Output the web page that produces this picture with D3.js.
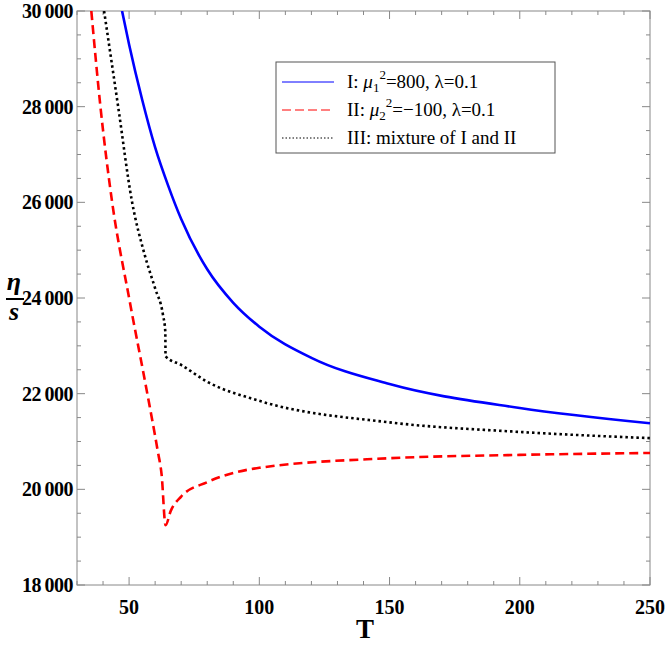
<!DOCTYPE html>
<html><head><meta charset="utf-8">
<script src="https://cdn.jsdelivr.net/npm/d3@7"></script>
<style>body{margin:0;background:#fff}</style>
</head><body>
<svg id="chart" width="666" height="645"></svg>
<script>
// curve I: mu1^2=800
const tI = [47.3, 50, 55, 60, 65, 70, 80, 90, 100, 120, 150, 200, 250];
const vI = [30000, 29300, 28150, 27150, 26350, 25650, 24600, 23900, 23400, 22750, 22200, 21700, 21380];
// curve II: mu2^2=-100
const tII = [35.5, 39, 43.5, 50, 57, 61, 62.5, 64, 66, 70, 80, 100, 150, 200, 250];
const vII = [30000, 28000, 26000, 24000, 22000, 20800, 20300, 19250, 19550, 19850, 20150, 20450, 20650, 20720, 20760];
// curve III: mixture
const tIII = [40.4, 45.8, 51, 56, 60, 63, 63.9, 64, 70, 80, 100, 150, 200, 250];
const vIII = [30000, 28000, 26050, 24900, 24200, 23650, 23300, 22780, 22600, 22250, 21850, 21400, 21200, 21070];
const xTicks = [50, 100, 150, 200, 250];
const yTicks = [18000, 20000, 22000, 24000, 26000, 28000, 30000];
const legendLabels = ["I: ", "II: ", "III: mixture of I and II"];

const svg = d3.select("#chart");
const L = 77, R = 650, T = 11, B = 585;
const x = d3.scaleLinear().domain([30, 250]).range([L, R]);
const y = d3.scaleLinear().domain([18000, 30000]).range([B, T]);

svg.append("defs").append("clipPath").attr("id", "clip")
  .append("rect").attr("x", L).attr("y", T).attr("width", R - L).attr("height", B - T);

const grey = "#888";
svg.append("rect").attr("x", L).attr("y", T).attr("width", R - L).attr("height", B - T)
  .attr("fill", "none").attr("stroke", grey);

// ticks inside the frame
d3.range(30, 251, 10).forEach(v => {
  const len = v % 50 === 0 ? 8 : 4;
  svg.append("line").attr("x1", x(v)).attr("x2", x(v)).attr("y1", B).attr("y2", B - len).attr("stroke", grey);
  svg.append("line").attr("x1", x(v)).attr("x2", x(v)).attr("y1", T).attr("y2", T + len).attr("stroke", grey);
});
d3.range(18000, 30001, 500).forEach(v => {
  const len = v % 2000 === 0 ? 8 : 4;
  svg.append("line").attr("y1", y(v)).attr("y2", y(v)).attr("x1", L).attr("x2", L + len).attr("stroke", grey);
  svg.append("line").attr("y1", y(v)).attr("y2", y(v)).attr("x1", R).attr("x2", R - len).attr("stroke", grey);
});

const font = "'Liberation Serif', 'Times New Roman', serif";
xTicks.forEach(v => svg.append("text").attr("x", x(v)).attr("y", B + 29)
  .attr("text-anchor", "middle").attr("font-family", font).attr("font-weight", "bold")
  .attr("font-size", 20).text(v));
yTicks.forEach(v => svg.append("text").attr("x", L - 4).attr("y", y(v) + 7)
  .attr("text-anchor", "end").attr("font-family", font).attr("font-weight", "bold")
  .attr("font-size", 20).attr("letter-spacing", -0.5)
  .text(d3.format(",")(v).replace(",", "\u2009")));

svg.append("text").attr("x", 365).attr("y", 638).attr("text-anchor", "middle")
  .attr("font-family", font).attr("font-weight", "bold").attr("font-size", 27).text("T");
svg.append("text").attr("x", 14).attr("y", 290).attr("text-anchor", "middle")
  .attr("font-family", font).attr("font-weight", "bold").attr("font-style", "italic")
  .attr("font-size", 26).text("η");
svg.append("line").attr("x1", 6).attr("x2", 24).attr("y1", 299).attr("y2", 299)
  .attr("stroke", "#000").attr("stroke-width", 2);
svg.append("text").attr("x", 14).attr("y", 320).attr("text-anchor", "middle")
  .attr("font-family", font).attr("font-weight", "bold").attr("font-style", "italic")
  .attr("font-size", 26).text("s");

const line = d3.line().x(d => x(d[0])).y(d => y(d[1])).curve(d3.curveMonotoneX);
const g = svg.append("g").attr("clip-path", "url(#clip)");
const series = [
  {t: tI, v: vI, color: "#0000ff", dash: null},
  {t: tII, v: vII, color: "#ff0000", dash: "9,5"},
  {t: tIII, v: vIII, color: "#000", dash: "2.5,3"}
];
series.forEach(s => g.append("path").attr("d", line(s.t.map((t, i) => [t, s.v[i]])))
  .attr("fill", "none").attr("stroke", s.color).attr("stroke-width", 2.6)
  .attr("stroke-dasharray", s.dash));

// legend
const lg = svg.append("g");
lg.append("rect").attr("x", 276).attr("y", 62).attr("width", 279).attr("height", 91)
  .attr("fill", "#fff").attr("stroke", "#555");
series.forEach((s, i) => {
  const yy = 82 + i * 28;
  lg.append("line").attr("x1", 282).attr("x2", 334).attr("y1", yy).attr("y2", yy)
    .attr("stroke", s.color).attr("stroke-width", 1)
    .attr("stroke-dasharray", s.dash ? (i === 1 ? "9,4" : "1.5,2") : null);
  const tx = lg.append("text").attr("x", 347).attr("y", yy + 6)
    .attr("font-family", font).attr("font-size", 19).text(legendLabels[i]);
  if (i < 2) {
    tx.append("tspan").attr("font-style", "italic").text("μ");
    tx.append("tspan").attr("font-size", 13).attr("dy", 4).text(i + 1);
    tx.append("tspan").attr("font-size", 13).attr("dy", -13).text("2");
    tx.append("tspan").attr("dy", 9).text(i === 0 ? "=800, λ=0.1" : "=\u2212100, λ=0.1");
  }
});
</script>
</body></html>
